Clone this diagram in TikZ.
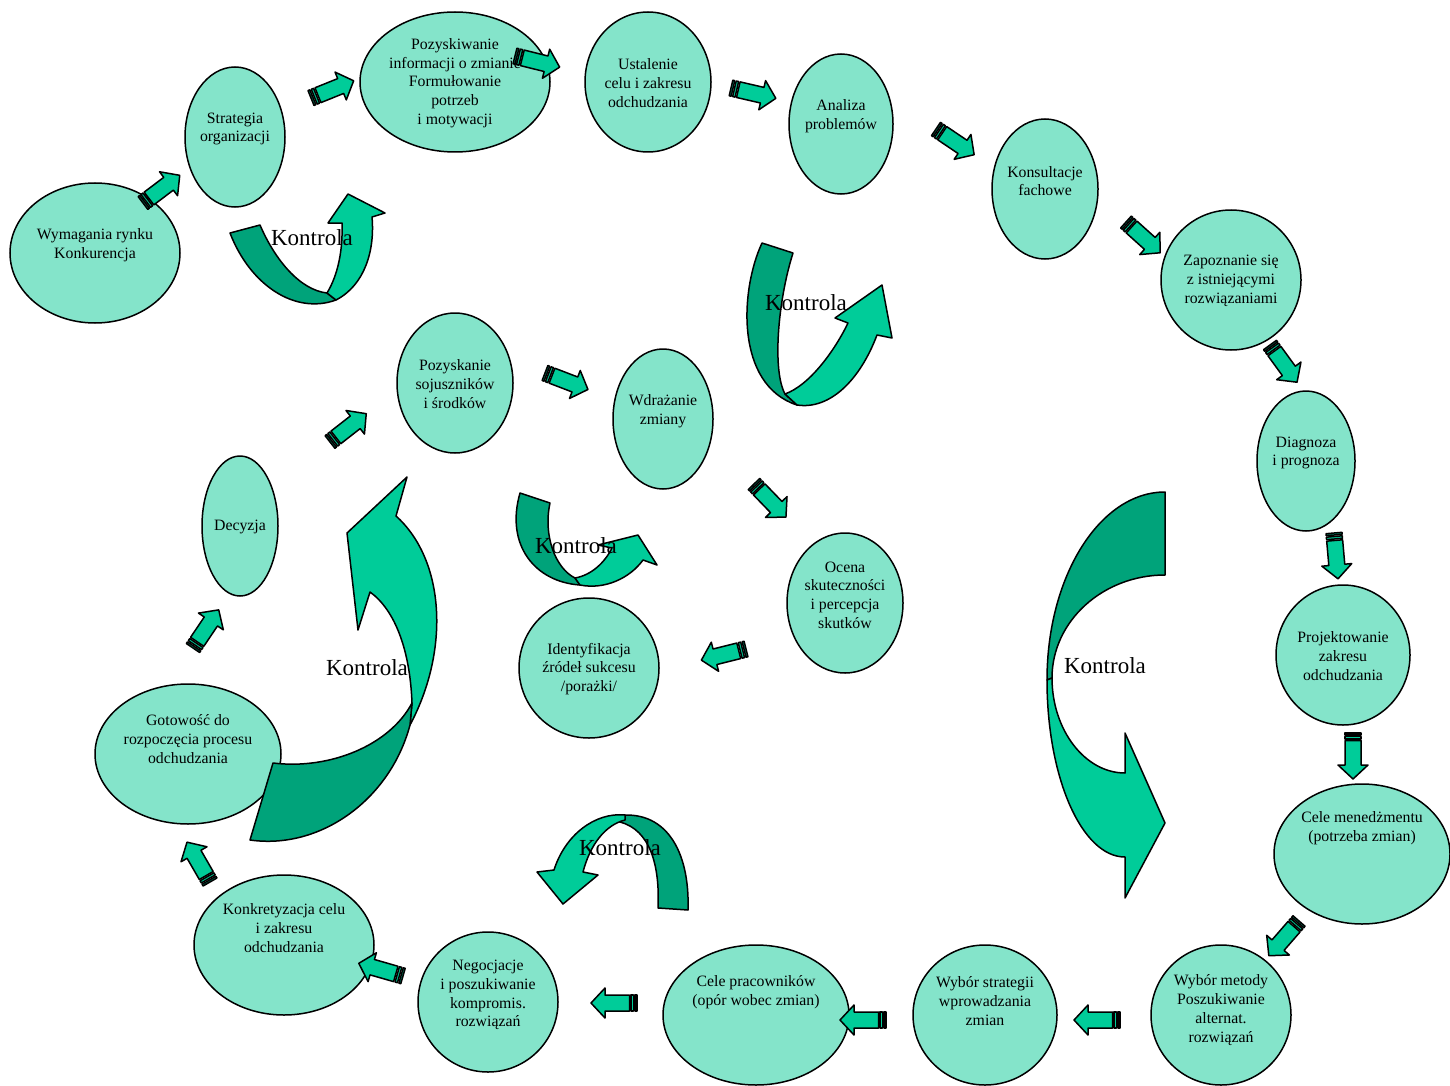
\documentclass[tikz,border=0pt]{standalone}
\usepackage{fontspec}
\setmainfont{Liberation Serif}
\usetikzlibrary{shapes.geometric}
\definecolor{ellfill}{HTML}{84E4CA}
\definecolor{arrgreen}{HTML}{00CC99}
\definecolor{arrdark}{HTML}{00A37A}
\tikzset{
  ell/.style={ellipse, draw=black, line width=1.5pt, fill=ellfill, inner sep=0pt},
  etext/.style={align=center, font=\fontsize{15.8}{18.7}\selectfont, inner sep=0pt},
  ktext/.style={font=\fontsize{23}{26}\selectfont, inner sep=0pt},
  cdark/.style={fill=arrdark, draw=black, line width=1.5pt, line join=round},
  clight/.style={fill=arrgreen, draw=black, line width=1.5pt, line join=round},
  sarrow/.pic={
    \draw[clight] (0,-8) rectangle (2,8);
    \draw[clight] (3.5,-8) rectangle (6,8);
    \draw[clight] (7.5,-8) -- (32,-8) -- (32,-15) -- (46,0) -- (32,15) -- (32,8) -- (7.5,8) -- cycle;
  }
}
\newcommand\ellnode[5]{\node[ell, minimum width=#4pt, minimum height=#5pt] (#1) at (#2,#3) {};}
\begin{document}
\begin{tikzpicture}[x=1pt,y=-1pt]
\useasboundingbox (0,0) rectangle (1450,1086);
\fill[white] (0,0) rectangle (1450,1086);

% ellipses
\ellnode{e1}{95}{253}{170}{140}
\ellnode{e2}{235}{137}{100}{140}
\ellnode{e3}{455}{82}{190}{140}
\ellnode{e4}{648}{82}{126}{140}
\ellnode{e5}{841}{124}{104}{140}
\ellnode{e6}{1045}{189}{106}{140}
\ellnode{e7}{1231}{280}{140}{140}
\ellnode{e8}{1306}{461}{98}{140}
\ellnode{e9}{1343}{655}{134}{140}
\ellnode{e10}{1362}{854}{176}{140}
\ellnode{e11}{1221}{1015}{140}{140}
\ellnode{e12}{985}{1015}{144}{140}
\ellnode{e13}{756}{1015}{186}{140}
\ellnode{e14}{488}{1002}{140}{140}
\ellnode{e15}{284}{945}{180}{140}
\ellnode{e16}{188}{754}{186}{140}
\ellnode{e17}{240}{526}{76}{140}
\ellnode{e18}{455}{383}{116}{140}
\ellnode{e19}{663}{419}{100}{140}
\ellnode{e20}{845}{603}{116}{140}
\ellnode{e21}{589}{668}{140}{140}

% texts
\node[etext] (t1) at (95,245) {Wymagania rynku\\Konkurencja};
\node[etext] (t2) at (235,129) {Strategia\\organizacji};
\node[etext] (t3) at (455,83) {Pozyskiwanie\\informacji o zmianie\\Formułowanie\\potrzeb\\i motywacji};
\node[etext] (t4) at (648,83) {Ustalenie\\celu i zakresu\\odchudzania};
\node[etext] (t5) at (841,116) {Analiza\\problemów};
\node[etext] (t6) at (1045,181) {Konsultacje\\fachowe};
\node[etext] (t7) at (1231,281) {Zapoznanie się\\z istniejącymi\\rozwiązaniami};
\node[etext] (t8) at (1306,453) {Diagnoza\\i prognoza};
\node[etext] (t9) at (1343,656) {Projektowanie\\zakresu\\odchudzania};
\node[etext] (t10) at (1362,828) {Cele menedżmentu\\(potrzeba zmian)};
\node[etext] (t11) at (1221,1010) {Wybór metody\\Poszukiwanie\\alternat.\\rozwiązań};
\node[etext] (t12) at (985,1001) {Wybór strategii\\wprowadzania\\zmian};
\node[etext] (t13) at (756,992) {Cele pracowników\\(opór wobec zmian)};
\node[etext] (t14) at (488,995) {Negocjacje\\i poszukiwanie\\kompromis.\\rozwiązań};
\node[etext] (t15) at (284,928) {Konkretyzacja celu\\i zakresu\\odchudzania};
\node[etext] (t16) at (188,739) {Gotowość do\\rozpoczęcia procesu\\odchudzania};
\node[etext] (t17) at (240,527) {Decyzja};
\node[etext] (t18) at (455,384) {Pozyskanie\\sojuszników\\i środków};
\node[etext] (t19) at (663,411) {Wdrażanie\\zmiany};
\node[etext] (t20) at (845,595) {Ocena\\skuteczności\\i percepcja\\skutków};
\node[etext] (t21) at (589,669) {Identyfikacja\\źródeł sukcesu\\/porażki/};

% striped block arrows
\pic[rotate=37] at (143,203) {sarrow};
\pic[rotate=22] at (311,98) {sarrow};
\pic[rotate=-14] at (515,56) {sarrow};
\pic[rotate=-13] at (731,88) {sarrow};
\pic[rotate=-34] at (936,129) {sarrow};
\pic[rotate=-42] at (1126,222) {sarrow};
\pic[rotate=-54] at (1270,345) {sarrow};
\pic[rotate=-85] at (1334,533) {sarrow};
\pic[rotate=-90] at (1353,733) {sarrow};
\pic[rotate=-131] at (1299,921) {sarrow};
\pic[rotate=180] at (1120,1020) {sarrow};
\pic[rotate=180] at (886,1020) {sarrow};
\pic[rotate=180] at (637,1003) {sarrow};
\pic[rotate=164] at (403,976) {sarrow};
\pic[rotate=120] at (210,882) {sarrow};
\pic[rotate=56] at (193,648) {sarrow};
\pic[rotate=38] at (330,442) {sarrow};
\pic[rotate=-21] at (545,373) {sarrow};
\pic[rotate=-46] at (754,484) {sarrow};
\pic[rotate=-166] at (746,649) {sarrow};

% curved arrow 1
\draw[cdark] (230,233) -- (260,225) .. controls (275,260) and (300,290) .. (327,293) -- (336,300) .. controls (295,315) and (250,285) .. (230,233) -- cycle;
\draw[clight] (327,293) .. controls (338,275) and (343,250) .. (342,223) -- (328,223) -- (348,194) -- (385,213) -- (372,217) .. controls (375,250) and (365,285) .. (336,300) -- cycle;
% curved arrow 2
\draw[cdark] (762,243) -- (793,253) .. controls (778,300) and (772,370) .. (785,394) -- (797,405) .. controls (735,385) and (740,290) .. (762,243) -- cycle;
\draw[clight] (785,394) .. controls (810,385) and (835,350) .. (848,323) -- (835,318) -- (882,285) -- (892,338) -- (877,335) .. controls (860,380) and (830,410) .. (797,405) -- cycle;
% curved arrow 3
\draw[cdark] (520,493) -- (550,503) .. controls (543,535) and (555,568) .. (575,578) -- (580,585) .. controls (535,582) and (505,545) .. (520,493) -- cycle;
\draw[clight] (575,578) .. controls (592,575) and (605,562) .. (612,548) -- (598,545) -- (638,535) -- (657,565) -- (643,560) .. controls (630,578) and (605,590) .. (580,585) -- cycle;
% curved arrow 4
\draw[clight] (412,703) .. controls (410,650) and (395,610) .. (370,592) -- (358,630) -- (347,533) -- (407,477) -- (396,516) .. controls (445,560) and (450,650) .. (410,725) -- cycle;
\draw[cdark] (273,763) .. controls (330,770) and (390,745) .. (412,703) -- (410,725) .. controls (390,800) and (320,850) .. (250,840) -- cycle;
% curved arrow 5
\draw[cdark] (1165,492) -- (1165,575) .. controls (1103,575) and (1052,621) .. (1052,678) -- (1047,680) .. controls (1047,576) and (1100,492) .. (1165,492) -- cycle;
\draw[clight] (1047,680) .. controls (1047,778) and (1082,857) .. (1125,857) -- (1125,898) -- (1165,823) -- (1125,733) -- (1125,773) .. controls (1085,773) and (1052,730) .. (1052,678) -- cycle;
% curved arrow 6
\draw[cdark] (615,816) .. controls (665,808) and (690,850) .. (688,910) -- (658,908) .. controls (660,865) and (650,830) .. (620,822) -- cycle;
\draw[clight] (625,815) .. controls (595,812) and (565,835) .. (554,870) -- (537,872) -- (563,904) -- (598,875) -- (583,872) .. controls (590,845) and (605,825) .. (625,820) -- cycle;

% labels
\node[ktext] (k1) at (312,238) {Kontrola};
\node[ktext] (k2) at (806,303) {Kontrola};
\node[ktext] (k3) at (576,546) {Kontrola};
\node[ktext] (k4) at (367,668) {Kontrola};
\node[ktext] (k5) at (1105,666) {Kontrola};
\node[ktext] (k6) at (620,848) {Kontrola};
\end{tikzpicture}
\end{document}
